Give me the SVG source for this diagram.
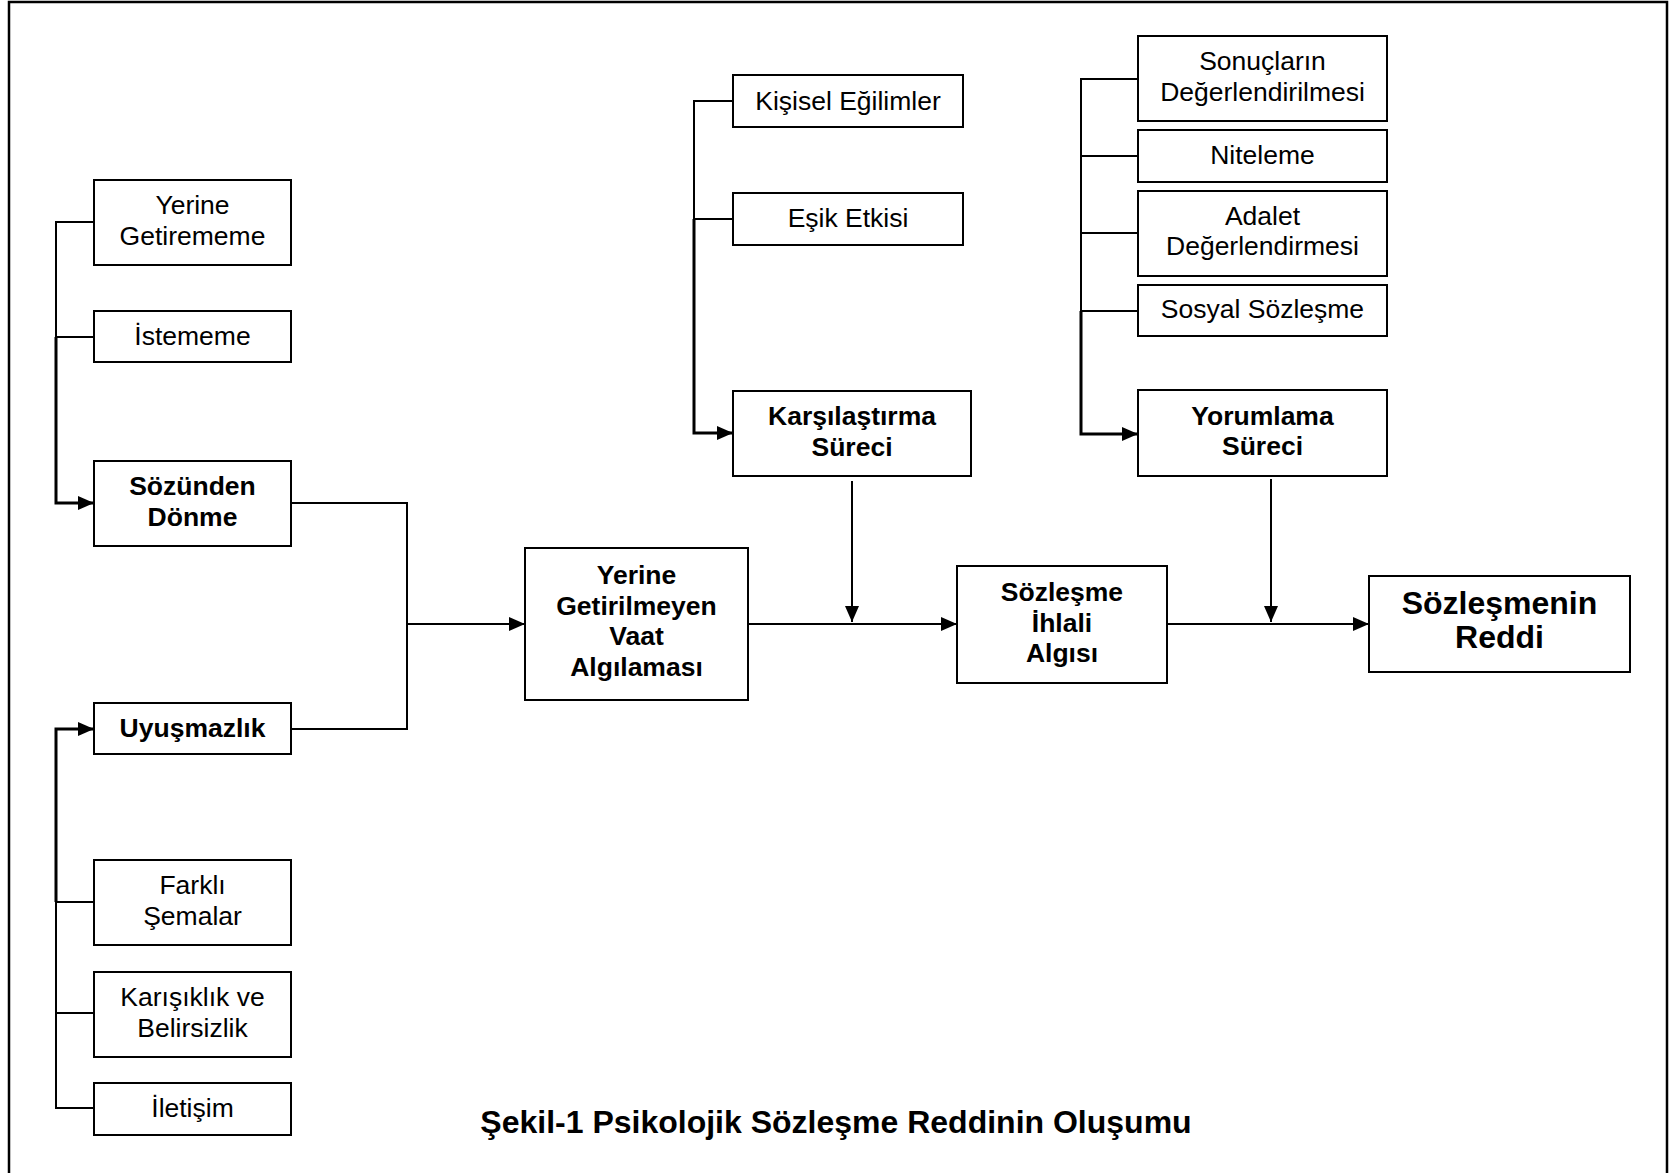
<svg xmlns="http://www.w3.org/2000/svg" width="1670" height="1173" viewBox="0 0 1670 1173">
  <style>
    .box { fill: #fff; stroke: #000; stroke-width: 2; }
    .t { font-family: "Liberation Sans", Arial, sans-serif; font-size: 26.5px; text-anchor: middle; fill: #000; }
    .b { font-weight: bold; }
    .big { font-size: 32px; }
    .ln { fill: none; stroke: #000; stroke-width: 2; }
    .lnb { fill: none; stroke: #000; stroke-width: 3; }
    .frame { fill: none; stroke: #000; stroke-width: 2.5; }
  </style>
  <defs>
    <marker id="arrow" markerUnits="userSpaceOnUse" markerWidth="16" markerHeight="14" refX="16" refY="7" orient="auto">
      <path d="M0,0 L16,7 L0,14 z" fill="#000"/>
    </marker>
  </defs>

  <rect width="1670" height="1173" fill="#fff"/>
  <!-- page frame, open at the bottom -->
  <path class="frame" d="M9,1173 V2 H1667 V1173"/>

  <!-- connectors -->
  <g id="connectors">
    <!-- left upper branch -->
    <path class="ln" d="M94,222 H56 V337 H94"/>
    <path class="lnb" d="M56,337 V503 H94" marker-end="url(#arrow)"/>
    <!-- left lower branch -->
    <path class="ln" d="M94,1108 H56 V902 H94 M56,1013 H94"/>
    <path class="lnb" d="M56,902 V729 H94" marker-end="url(#arrow)"/>
    <!-- merge into unmet promise -->
    <path class="ln" d="M291,503 H407 V729 H291"/>
    <path class="ln" d="M407,624 H525" marker-end="url(#arrow)"/>
    <!-- main line -->
    <path class="ln" d="M748,624 H957" marker-end="url(#arrow)"/>
    <path class="ln" d="M1167,624 H1369" marker-end="url(#arrow)"/>
    <!-- comparison process branch -->
    <path class="ln" d="M733,101 H694 V219 H733"/>
    <path class="lnb" d="M694,219 V433 H733" marker-end="url(#arrow)"/>
    <path class="ln" d="M852,481 V622" marker-end="url(#arrow)"/>
    <!-- interpretation process branch -->
    <path class="ln" d="M1138,79 H1081 V311 H1138 M1081,156 H1138 M1081,233 H1138"/>
    <path class="lnb" d="M1081,311 V434 H1138" marker-end="url(#arrow)"/>
    <path class="ln" d="M1271,479 V622" marker-end="url(#arrow)"/>
  </g>

  <!-- left column -->
  <g id="yerine-getirememe">
    <rect class="box" x="94" y="180" width="197" height="85"/>
    <text class="t" x="192.5" y="214">Yerine</text>
    <text class="t" x="192.5" y="245">Getirememe</text>
  </g>
  <g id="istememe">
    <rect class="box" x="94" y="311" width="197" height="51"/>
    <text class="t" x="192.5" y="345">İstememe</text>
  </g>
  <g id="sozunden-donme">
    <rect class="box" x="94" y="461" width="197" height="85"/>
    <text class="t b" x="192.5" y="495">Sözünden</text>
    <text class="t b" x="192.5" y="525.5">Dönme</text>
  </g>
  <g id="uyusmazlik">
    <rect class="box" x="94" y="703" width="197" height="51"/>
    <text class="t b" x="192.5" y="737">Uyuşmazlık</text>
  </g>
  <g id="farkli-semalar">
    <rect class="box" x="94" y="860" width="197" height="85"/>
    <text class="t" x="192.5" y="894">Farklı</text>
    <text class="t" x="192.5" y="924.5">Şemalar</text>
  </g>
  <g id="karisiklik">
    <rect class="box" x="94" y="972" width="197" height="85"/>
    <text class="t" x="192.5" y="1006">Karışıklık ve</text>
    <text class="t" x="192.5" y="1036.5">Belirsizlik</text>
  </g>
  <g id="iletisim">
    <rect class="box" x="94" y="1083" width="197" height="52"/>
    <text class="t" x="192.5" y="1117">İletişim</text>
  </g>

  <!-- unmet promise -->
  <g id="yerine-getirilmeyen">
    <rect class="box" x="525" y="548" width="223" height="152"/>
    <text class="t b" x="636.5" y="584">Yerine</text>
    <text class="t b" x="636.5" y="614.5">Getirilmeyen</text>
    <text class="t b" x="636.5" y="645">Vaat</text>
    <text class="t b" x="636.5" y="675.5">Algılaması</text>
  </g>

  <!-- comparison column -->
  <g id="kisisel-egilimler">
    <rect class="box" x="733" y="75" width="230" height="52"/>
    <text class="t" x="848" y="109.5">Kişisel Eğilimler</text>
  </g>
  <g id="esik-etkisi">
    <rect class="box" x="733" y="193" width="230" height="52"/>
    <text class="t" x="848" y="227">Eşik Etkisi</text>
  </g>
  <g id="karsilastirma">
    <rect class="box" x="733" y="391" width="238" height="85"/>
    <text class="t b" x="852" y="425">Karşılaştırma</text>
    <text class="t b" x="852" y="455.5">Süreci</text>
  </g>

  <!-- breach perception -->
  <g id="sozlesme-ihlali">
    <rect class="box" x="957" y="566" width="210" height="117"/>
    <text class="t b" x="1062" y="601">Sözleşme</text>
    <text class="t b" x="1062" y="631.5">İhlali</text>
    <text class="t b" x="1062" y="662">Algısı</text>
  </g>

  <!-- interpretation column -->
  <g id="sonuclarin">
    <rect class="box" x="1138" y="36" width="249" height="85"/>
    <text class="t" x="1262.5" y="70">Sonuçların</text>
    <text class="t" x="1262.5" y="100.5">Değerlendirilmesi</text>
  </g>
  <g id="niteleme">
    <rect class="box" x="1138" y="130" width="249" height="52"/>
    <text class="t" x="1262.5" y="164">Niteleme</text>
  </g>
  <g id="adalet">
    <rect class="box" x="1138" y="191" width="249" height="85"/>
    <text class="t" x="1262.5" y="224.5">Adalet</text>
    <text class="t" x="1262.5" y="255">Değerlendirmesi</text>
  </g>
  <g id="sosyal-sozlesme">
    <rect class="box" x="1138" y="285" width="249" height="51"/>
    <text class="t" x="1262.5" y="318">Sosyal Sözleşme</text>
  </g>
  <g id="yorumlama">
    <rect class="box" x="1138" y="390" width="249" height="86"/>
    <text class="t b" x="1262.5" y="424.5">Yorumlama</text>
    <text class="t b" x="1262.5" y="455">Süreci</text>
  </g>

  <!-- outcome -->
  <g id="sozlesmenin-reddi">
    <rect class="box" x="1369" y="576" width="261" height="96"/>
    <text class="t b big" x="1499.5" y="614">Sözleşmenin</text>
    <text class="t b big" x="1499.5" y="648">Reddi</text>
  </g>

  <text class="t b big" x="836" y="1133">Şekil-1 Psikolojik Sözleşme Reddinin Oluşumu</text>
</svg>
